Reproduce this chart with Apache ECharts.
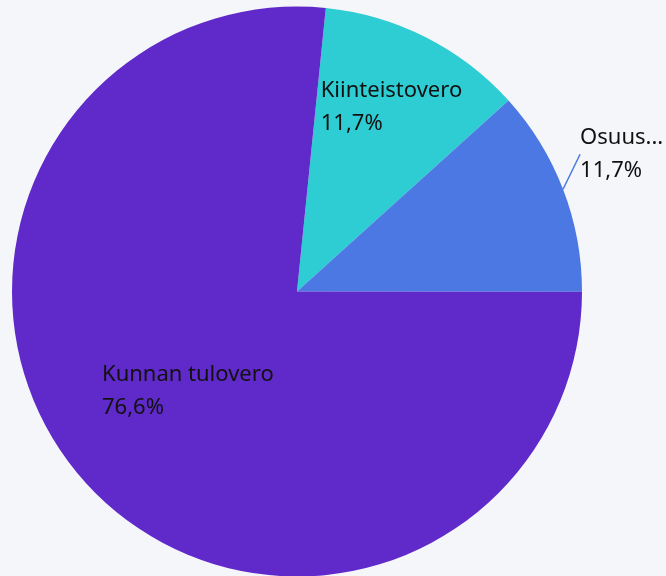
<!DOCTYPE html>
<html>
<head>
<meta charset="utf-8">
<script src="https://cdn.jsdelivr.net/npm/echarts@6/dist/echarts.min.js"></script>
<style>
html,body{margin:0;padding:0;background:#F5F6FA;}
#c{width:666px;height:576px;}
</style>
</head>
<body>
<div id="c"></div>
<script>
const categories = ['Kiinteistovero', 'Osuus yhteisöverosta', 'Kunnan tulovero'];
const shares = [11.7, 11.7, 76.6];
const colors = ['#2ECDD3', '#4B78E3', '#6029C9'];

const chart = echarts.init(document.getElementById('c'), null, {renderer: 'canvas'});
const fmt = v => v.toFixed(1).replace('.', ',') + '%';

const labelAdjust = [
  {dx: -42, dy: -54},
  {dx: -1, dy: -30},
  {dx: -87, dy: 2}
];

const data = categories.map((name, i) => ({
  name: name,
  value: shares[i],
  itemStyle: {color: colors[i]},
  label: i === 1 ? {
    position: 'outside',
    width: 88,
    overflow: 'truncate',
    ellipsis: '...'
  } : {
    position: 'inside'
  },
  labelLine: i === 1 ? {show: true, length: 14, length2: 0, lineStyle: {color: colors[1], width: 1.5}} : {show: false}
}));

chart.setOption({
  backgroundColor: '#F5F6FA',
  animation: false,
  series: [{
    type: 'pie',
    center: [297, 291.5],
    radius: [0, 285],
    startAngle: 84.2,
    clockwise: true,
    data: data,
    label: {
      show: true,
      formatter: p => p.name + '\n' + fmt(p.value),
      fontSize: 22,
      lineHeight: 33,
      fontFamily: 'Noto Sans',
      color: '#111111'
    },
    labelLayout: function (params) {
      const a = labelAdjust[params.dataIndex];
      if (params.dataIndex === 1) {
        const r = params.labelRect;
        return {x: r.x + a.dx, y: r.y + a.dy, align: 'left', verticalAlign: 'top'};
      }
      return {dx: a.dx, dy: a.dy, align: 'left', verticalAlign: 'middle'};
    },
    emphasis: {disabled: true}
  }]
});
</script>
</body>
</html>
